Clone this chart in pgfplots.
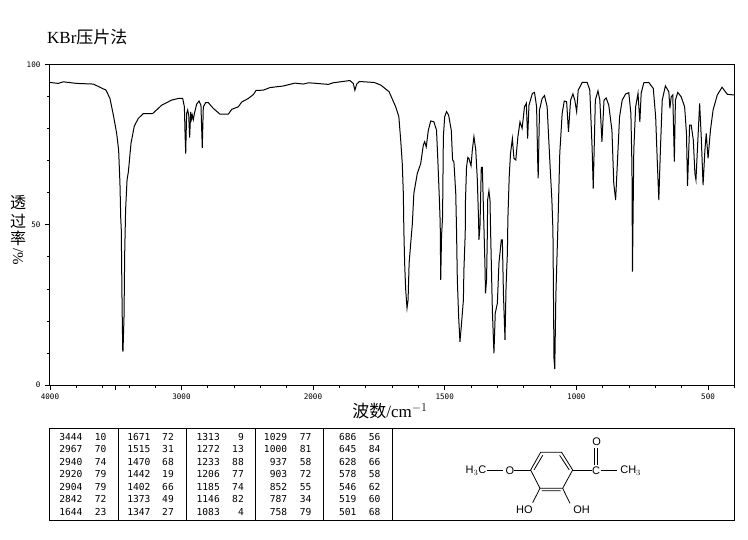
\documentclass[border=0pt]{standalone}
\usepackage{pgfplots}
\pgfplotsset{compat=1.18}
\usepackage{fontspec}
\setmainfont{Liberation Serif}
\newfontfamily\cjk{Noto Sans CJK SC}
\newfontfamily\mono{DejaVu Sans Mono}
\newfontfamily\lsans{Liberation Sans}
\begin{document}
\begin{tikzpicture}
\path[use as bounding box] (0pt,0pt) rectangle (748pt,-539pt);
\begin{axis}[
  at={(50pt,-385pt)},anchor=south west,
  scale only axis,width=684.4pt,height=320.5pt,
  x coord trafo/.code={\pgfmathparse{#1>=2000 ? 50+(4000-#1)*0.1315 : 313+(2000-#1)*0.2634}},
  xmin=4000,xmax=400,ymin=0,ymax=100,
  axis line style={line width=1pt},
  xtick={4000,3500,3000,2000,1500,1000,500},
  xticklabels={4000,,3000,2000,1500,1000,500},
  minor xtick={3800,3600,3400,3200,2800,2600,2400,2200,1900,1800,1700,1600,1400,1300,1200,1100,900,800,700,600,400},
  ytick={0,50,100},yticklabels={0,50,100},
  minor ytick={10,20,30,40,60,70,80,90},
  xtick pos=bottom,ytick pos=left,tick align=outside,
  major tick length=5pt,minor tick length=3pt,
  tick style={black,line width=0.7pt},
  tick label style={font=\mono\fontsize{7.6}{8}\selectfont},
  yticklabel style={xshift=-1pt},
]
\addplot[black,line width=1pt] table {
4000 94.4
3937 94.1
3899 94.6
3797 94.1
3670 93.9
3620 92.9
3574 92.0
3544 89.4
3518 84.2
3493 78.5
3478 73.3
3468 62.9
3462 52.0
3458 48.6
3452 25.5
3447 11.0
3445 10.4
3437 21.4
3432 41.0
3425 54.7
3414 64.0
3404 66.5
3384 75.4
3359 80.8
3328 83.2
3290 84.7
3219 84.7
3151 87.3
3075 88.9
3024 89.4
2991 89.4
2978 86.8
2973 78.5
2968 72.2
2961 84.7
2953 85.8
2945 84.2
2938 77.2
2930 85.2
2923 83.0
2918 84.2
2910 82.8
2902 84.7
2885 87.6
2867 88.6
2852 87.3
2847 80.6
2842 74.0
2834 86.8
2816 88.1
2796 88.1
2758 86.3
2707 84.5
2644 84.5
2618 86.0
2568 86.8
2542 88.3
2492 89.4
2454 90.6
2433 91.9
2378 92.0
2327 92.8
2226 93.3
2137 94.2
2073 93.9
2034 94.3
1986 94.1
1942 93.8
1923 94.3
1860 95.0
1847 94.1
1841 92.0
1834 93.9
1824 94.7
1768 94.4
1743 93.6
1711 91.5
1686 86.8
1674 83.7
1667 76.4
1661 69.1
1657 59.8
1655 48.3
1652 38.0
1648 29.7
1643 24.0
1639 26.5
1635 38.0
1629 44.2
1623 50.0
1617 59.8
1604 66.0
1591 69.1
1581 74.9
1576 75.9
1570 74.3
1562 79.5
1553 82.4
1541 82.1
1531 79.5
1526 70.2
1520 57.7
1517 50.4
1515 32.8
1512 46.3
1508 52.5
1505 77.5
1500 83.7
1493 85.3
1485 84.2
1475 79.5
1470 70.2
1465 69.7
1458 59.8
1455 48.3
1452 32.8
1447 21.3
1442 13.5
1437 18.2
1429 26.5
1427 35.9
1422 47.3
1421 57.7
1417 68.1
1412 71.0
1408 70.7
1400 68.4
1395 73.3
1389 77.5
1382 73.3
1376 64.0
1371 50.4
1370 45.3
1366 49.4
1361 67.9
1357 67.9
1347 37.0
1345 28.6
1341 32.8
1338 47.3
1337 57.7
1332 60.6
1328 57.7
1326 49.4
1319 23.4
1313 9.9
1308 22.4
1300 25.5
1294 38.0
1285 45.3
1281 45.3
1277 28.6
1271 14.1
1267 30.7
1262 41.0
1260 52.0
1255 65.0
1250 72.3
1243 76.9
1237 70.7
1230 70.2
1222 77.5
1214 82.1
1206 80.1
1197 86.8
1190 87.9
1185 76.9
1180 87.3
1167 91.0
1159 91.3
1151 86.8
1147 70.2
1145 64.5
1140 85.8
1130 89.4
1121 90.3
1111 86.8
1101 70.2
1093 57.7
1089 48.3
1085 8.3
1082 5.0
1078 27.6
1070 50.0
1063 72.3
1054 84.7
1046 88.6
1037 88.4
1030 79.0
1022 88.9
1013 90.8
1006 88.9
999 85.3
993 92.0
978 94.4
959 94.4
949 92.0
940 73.3
936 61.3
928 88.9
918 91.8
911 88.9
903 75.9
895 88.9
887 89.6
877 87.3
865 79.5
858 62.9
851 57.7
845 68.1
836 83.7
826 88.9
813 90.8
801 91.2
793 84.7
789 68.1
787 35.4
782 73.3
775 86.8
766 91.0
759 82.1
754 91.0
744 94.3
725 94.4
708 92.5
699 83.7
693 70.2
687 57.7
681 73.3
674 88.9
662 93.3
649 91.5
645 86.3
640 89.9
634 90.5
628 69.7
624 88.9
615 91.3
602 89.9
589 86.8
582 78.5
578 62.1
570 81.1
564 81.1
556 76.4
550 66.0
546 64.0
540 74.3
532 87.9
526 77.5
519 62.4
512 73.3
507 78.5
500 70.7
491 79.5
481 85.8
465 90.5
447 92.9
427 90.7
402 90.5
};
\end{axis}
\begin{scope}[x=1pt,y=-1pt]
\node[anchor=west,inner sep=0pt] at (47,37) {\fontsize{17}{18}\selectfont KBr\cjk 压片法};
\node[inner sep=0pt] at (390,411) {\fontsize{17}{18}\selectfont{\cjk 波数}/cm$^{-1}$};
\foreach \c/\y in {透/203,过/221,率/238}{\node[inner sep=0pt] at (18,\y) {\cjk\fontsize{16}{17}\selectfont \c};}
\node[inner sep=0pt,rotate=-90] at (18,257) {\fontsize{15}{16}\selectfont /\%};
\draw[line width=0.9pt] (49.5,428.3) rectangle (734,520);
\foreach \x in {118,186.7,255.7,323,392.7}{\draw[line width=0.9pt] (\x,428.3)--(\x,520);}
\foreach \cx/\cv/\list in {
 82.7/106.7/{3444/10,2967/70,2940/74,2920/79,2904/79,2842/72,1644/23},
 150.7/174/{1671/72,1515/31,1470/68,1442/19,1402/66,1373/49,1347/27},
 220/244/{1313/9,1272/13,1233/88,1206/77,1185/74,1146/82,1083/4},
 287.3/311.7/{1029/77,1000/81,937/58,903/72,852/55,787/34,758/79},
 356.7/380.7/{686/56,645/84,628/66,578/58,546/62,519/60,501/68}}{
 \foreach \w/\t [count=\i from 0] in \list {
  \node[anchor=east,inner sep=0pt,font=\mono\fontsize{9.6}{10}\selectfont] at (\cx,436.7+12.5*\i) {\w};
  \node[anchor=east,inner sep=0pt,font=\mono\fontsize{9.6}{10}\selectfont] at (\cv,436.7+12.5*\i) {\t};
 }}
\end{scope}
\begin{scope}[shift={(390pt,-420pt)},x=0.3333pt,y=-0.3333pt,line width=0.8pt]
\draw (452,97)--(515,97)--(548,150)--(518,205)--(450,205)--(422,150)--cycle;
\draw (432,150)--(458,106) (509,106)--(538,150) (456,212)--(512,212);
\draw (290,150)--(340,150) (372,150)--(422,150) (548,150)--(605,150) (632,150)--(680,150);
\draw (613,85)--(613,135) (622,85)--(622,135);
\draw (450,205)--(428,248) (518,205)--(540,250);
\tikzset{every node/.style={inner sep=0pt,font=\lsans\fontsize{11}{12}\selectfont}}
\node at (360,152) {O};
\node at (618,152) {C};
\node at (620,65) {O};
\node at (403,270) {HO};
\node at (575,270) {OH};
\node at (258,152) {H$_{3}$C};
\node at (722,152) {CH$_{3}$};
\end{scope}
\end{tikzpicture}
\end{document}
